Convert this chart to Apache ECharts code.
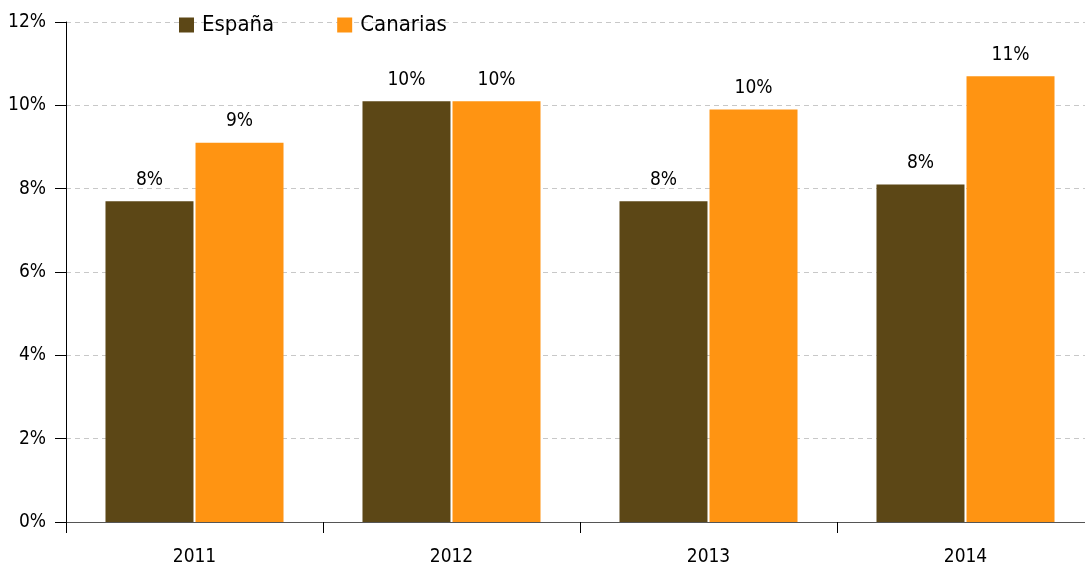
<!DOCTYPE html>
<html><head><meta charset="utf-8">
<script src="https://cdn.jsdelivr.net/npm/echarts@6/dist/echarts.min.js"></script>
<style>html,body{margin:0;padding:0;background:#fff;overflow:hidden}#c{width:1094px;height:567px}</style>
</head><body><div id="c"></div>
<script>
const categories = ['2011', '2012', '2013', '2014'];
const espana = [7.7, 10.1, 7.7, 8.1];
const canarias = [9.1, 10.1, 9.9, 10.7];
const seriesNames = ['España', 'Canarias'];
const FONT = '"DejaVu Sans Condensed", "DejaVu Sans", sans-serif';

const chart = echarts.init(document.getElementById('c'), null, {renderer: 'canvas'});
const lbl = {
  show: true, position: 'top', distance: 12, color: '#000', fontFamily: FONT, fontSize: 19,
  formatter: p => Math.round(p.value) + '%'
};
chart.setOption({
  animation: false,
  grid: {left: 66, top: 22, right: 0, bottom: 45},
  legend: {
    left: 174, top: 9, itemWidth: 15, itemHeight: 15, itemGap: 63,
    icon: 'rect',
    textStyle: {fontFamily: FONT, fontSize: 22, color: '#000', padding: [0, 0, 0, 3]},
    data: seriesNames
  },
  xAxis: {
    type: 'category', data: categories,
    axisLine: {lineStyle: {color: '#555', width: 1}},
    axisTick: {show: true, length: 11, lineStyle: {color: '#000'}},
    axisLabel: {fontFamily: FONT, fontSize: 19, color: '#000', margin: 26}
  },
  yAxis: {
    type: 'value', min: 0, max: 12, interval: 2,
    axisLine: {show: true, lineStyle: {color: '#000', width: 1}},
    axisTick: {show: true, length: 11, lineStyle: {color: '#000'}},
    axisLabel: {fontFamily: FONT, fontSize: 19, color: '#000', margin: 20, formatter: '{value}%'},
    splitLine: {show: true, lineStyle: {color: '#c8c8c8', type: [5, 4]}}
  },
  series: [
    {name: seriesNames[0], type: 'bar', data: espana, barWidth: 88, barGap: '2.3%',
     itemStyle: {color: '#5C4716'}, label: lbl},
    {name: seriesNames[1], type: 'bar', data: canarias, barWidth: 88,
     itemStyle: {color: '#FF9412'}, label: lbl}
  ]
});
</script></body></html>
